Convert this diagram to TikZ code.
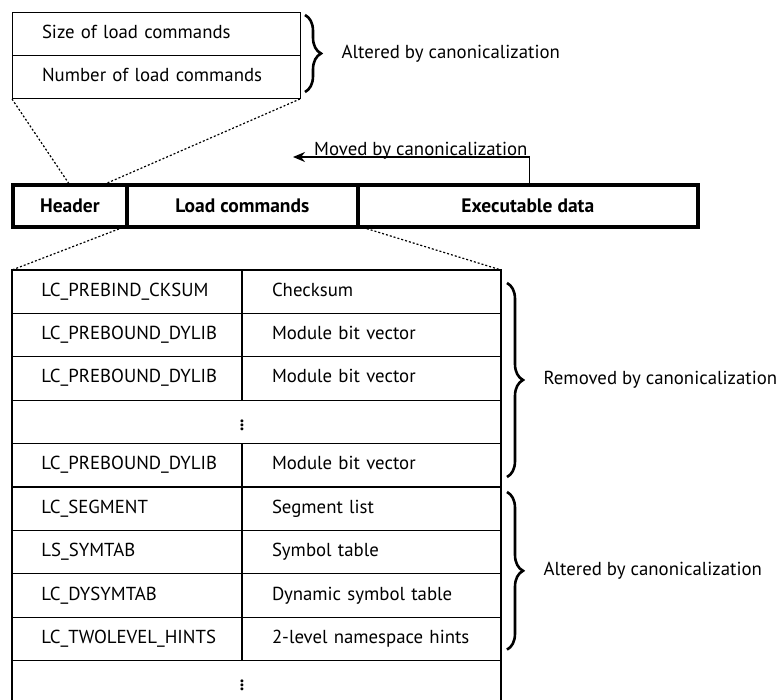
\documentclass[tikz,border=0pt]{standalone}
\usepackage{fontspec}
\setmainfont{PT Sans}
\usetikzlibrary{arrows.meta, positioning, decorations.pathreplacing}

\newcommand{\rowdots}{\hspace*{-29pt}{\fontsize{25}{25}\selectfont$\vdots$}}

\begin{document}
\begin{tikzpicture}[x=1pt, y=-1pt,
			font=\fontsize{18.8}{22}\selectfont,
			hcell/.style={draw, line width=1pt, outer sep=0pt, minimum height=43pt,
				text width=228pt, inner xsep=30pt, inner ysep=0pt, align=left,
				text height=13pt, text depth=4pt},
			seg/.style={draw, line width=4pt, outer sep=0pt, minimum height=42.5pt,
				inner sep=0pt, font=\fontsize{19.5}{22}\selectfont\bfseries},
			lcell/.style={draw, line width=1.3pt, outer sep=0pt, minimum height=43.4pt,
				text width=171pt, inner xsep=29.5pt, inner ysep=0pt, align=left,
				text height=13pt, text depth=4pt},
			rcell/.style={lcell, text width=199pt, inner xsep=30pt},
			gap/.style={draw, line width=1.3pt, outer sep=0pt, minimum height=43.4pt,
				minimum width=489pt, inner sep=0pt},
			zoomln/.style={line width=1.2pt, dash pattern=on 2pt off 2pt},
			brc/.style={decorate, decoration={brace, amplitude=16pt}, line width=2.6pt},
			lbl/.style={midway, right=32pt},
			mvarr/.style={-{Stealth[length=12pt, width=10pt]}, line width=1.3pt}
			]
			\clip (0,0) rectangle (782,700);
			\useasboundingbox (0,0) rectangle (782,700);
			
			\node[hcell, anchor=north west] (lcsize) at (12,13) {Size of load commands};
			\node[hcell, below=0pt of lcsize] (lcnum) {Number of load commands};
			
			\node[seg, minimum width=113.7pt, anchor=north west] (hdr) at (13,185) {Header};
			\node[seg, minimum width=231.3pt, right=0pt of hdr] (ldc) {Load commands};
			\node[seg, minimum width=339.5pt, right=0pt of ldc] (exe) {Executable data};
			
			\node[lcell, anchor=north west] (lc1) at (12,270) {LC\_PREBIND\_CKSUM};
			\node[rcell, right=0pt of lc1] (ds1) {Checksum};
			\node[lcell, below=0pt of lc1] (lc2) {LC\_PREBOUND\_DYLIB};
			\node[rcell, right=0pt of lc2] (ds2) {Module bit vector};
			\node[lcell, below=0pt of lc2] (lc3) {LC\_PREBOUND\_DYLIB};
			\node[rcell, right=0pt of lc3] (ds3) {Module bit vector};
			\node[gap, below=0pt of lc3.south west, anchor=north west] (gap1) {\rowdots};
			\node[lcell, below=0pt of gap1.south west, anchor=north west] (lc5) {LC\_PREBOUND\_DYLIB};
			\node[rcell, right=0pt of lc5] (ds5) {Module bit vector};
			\node[lcell, below=0pt of lc5] (lc6) {LC\_SEGMENT};
			\node[rcell, right=0pt of lc6] (ds6) {Segment list};
			\node[lcell, below=0pt of lc6] (lc7) {LS\_SYMTAB};
			\node[rcell, right=0pt of lc7] (ds7) {Symbol table};
			\node[lcell, below=0pt of lc7] (lc8) {LC\_DYSYMTAB};
			\node[rcell, right=0pt of lc8] (ds8) {Dynamic symbol table};
			\node[lcell, below=0pt of lc8] (lc9) {LC\_TWOLEVEL\_HINTS};
			\node[rcell, right=0pt of lc9] (ds9) {2-level namespace hints};
			\node[gap, below=0pt of lc9.south west, anchor=north west] (gap2) {\rowdots};
			
			% zoom lines
			\draw[zoomln] (lcnum.south west) -- (hdr.north);
			\draw[zoomln] (lcnum.south east) -- ([xshift=-24pt]hdr.north east);
			\draw[zoomln] ([xshift=-4pt]hdr.south east) -- (lc1.north west);
			\draw[zoomln] ([xshift=5pt]ldc.south east) -- (ds1.north east);
			
			% braces
			\draw[brc] ([shift={(5,2)}]lcsize.north east) -- node[lbl] {Altered by canonicalization} ([shift={(5,-7)}]lcnum.south east);
			\draw[brc] ([shift={(6,13)}]ds1.north east) -- node[lbl] {Removed by canonicalization} ([shift={(6,-10)}]ds5.south east);
			\draw[brc] ([shift={(6,5)}]ds6.north east) -- node[lbl] {Altered by canonicalization} ([shift={(6,-11)}]ds9.south east);
			
			\coordinate (mvend) at (293,157);
			\draw[mvarr] ([xshift=2pt]exe.north) |- node[pos=0.73, anchor=base, yshift=1pt] {Moved by canonicalization} (mvend);
	\end{tikzpicture}
\end{document}
